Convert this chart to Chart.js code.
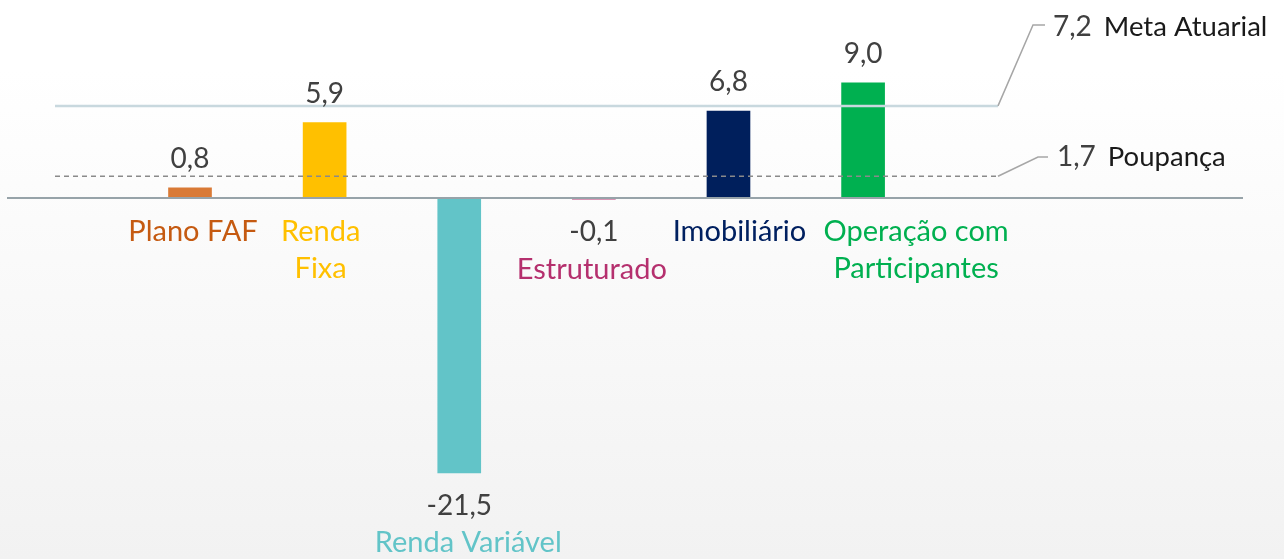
<!DOCTYPE html>
<html>
<head>
<meta charset="utf-8">
<script src="https://cdn.jsdelivr.net/npm/chart.js@4/dist/chart.umd.min.js"></script>
<style>
  html, body { margin: 0; padding: 0; }
  body {
    width: 1284px; height: 559px; overflow: hidden;
    background: linear-gradient(to bottom, #ffffff 0px, #ffffff 70px, #f2f2f2 559px);
  }
  #wrap { position: relative; width: 1284px; height: 559px; }
</style>
</head>
<body>
<div id="wrap"><canvas id="c" width="1284" height="559"></canvas></div>
<script>
// ---- data ----
const categories = [["Plano FAF"], ["Renda", "Fixa"], ["Renda Variável"], ["Estruturado"], ["Imobiliário"], ["Operação com", "Participantes"]];
const returns = [0.8, 5.9, -21.5, -0.1, 6.8, 9.0];
const metaAtuarial = 7.2;
const poupanca = 1.7;
const metaLabel = "Meta Atuarial";
const poupancaLabel = "Poupança";

// ---- styles ----
const barColors = ["#d97a36", "#ffc000", "#62c4c8", "#b5306e", "#001f5c", "#00b050"];
const labelColors = ["#c55a11", "#ffc000", "#62c4c8", "#b5306e", "#002060", "#00b050"];
const FONT = "Lato, 'Open Sans', sans-serif";

function fmt(v) { return v.toFixed(1).replace(".", ","); }

const overlay = {
  id: "overlay",
  afterDatasetsDraw(chart) {
    const ctx = chart.ctx;
    const y = chart.scales.y;
    const meta = chart.getDatasetMeta(0);
    const y0 = y.getPixelForValue(0);
    const yMeta = y.getPixelForValue(metaAtuarial);
    const yPoup = y.getPixelForValue(poupanca);
    ctx.save();

    // zero axis line
    ctx.strokeStyle = "#97a3a9";
    ctx.lineWidth = 2;
    ctx.beginPath(); ctx.moveTo(7, y0); ctx.lineTo(1243, y0); ctx.stroke();

    // meta atuarial line
    ctx.strokeStyle = "#c8d8de";
    ctx.lineWidth = 2.5;
    ctx.beginPath(); ctx.moveTo(55, yMeta); ctx.lineTo(998, yMeta); ctx.stroke();

    // poupanca dashed line
    ctx.strokeStyle = "#8a8a8a";
    ctx.lineWidth = 1.3;
    ctx.setLineDash([5, 4]);
    ctx.beginPath(); ctx.moveTo(55, yPoup); ctx.lineTo(998, yPoup); ctx.stroke();
    ctx.setLineDash([]);

    // leader lines
    ctx.strokeStyle = "#a6a6a6";
    ctx.lineWidth = 1.5;
    ctx.beginPath(); ctx.moveTo(998, yMeta); ctx.lineTo(1033, 25); ctx.lineTo(1045, 25); ctx.stroke();
    ctx.beginPath(); ctx.moveTo(998, yPoup); ctx.lineTo(1038, 157); ctx.lineTo(1048, 157); ctx.stroke();

    // right annotations
    ctx.textBaseline = "middle";
    ctx.textAlign = "left";
    ctx.font = "28px " + FONT;
    ctx.fillStyle = "#404040";
    ctx.fillText(fmt(metaAtuarial), 1053, 27);
    let w = ctx.measureText(fmt(metaAtuarial)).width;
    ctx.font = "27.5px " + FONT;
    ctx.fillStyle = "#1a1a1a";
    ctx.fillText(metaLabel, 1053 + w + 12, 27);

    ctx.font = "28px " + FONT;
    ctx.fillStyle = "#404040";
    ctx.fillText(fmt(poupanca), 1057, 157);
    w = ctx.measureText(fmt(poupanca)).width;
    ctx.font = "27.5px " + FONT;
    ctx.fillStyle = "#1a1a1a";
    ctx.fillText(poupancaLabel, 1057 + w + 12, 157);

    // value labels and category labels
    const catDx = [3, -4, 9, -2, 11, 53];
    meta.data.forEach((bar, i) => {
      const v = returns[i];
      ctx.textAlign = "center";
      ctx.font = "28px " + FONT;
      ctx.fillStyle = "#404040";
      let catY;
      if (v >= 0) {
        ctx.fillText(fmt(v), bar.x, bar.y - 29);
        catY = y0 + 34;
      } else {
        ctx.fillText(fmt(v), bar.x, bar.y + 33);
        catY = bar.y + 70;
      }
      ctx.font = "29px " + FONT;
      ctx.fillStyle = labelColors[i];
      categories[i].forEach((line, k) => {
        ctx.fillText(line, bar.x + catDx[i], catY + k * 37);
      });
    });
    ctx.restore();
  }
};

new Chart(document.getElementById("c"), {
  type: "bar",
  data: {
    labels: categories.map(c => c.join(" ")),
    datasets: [{
      data: returns,
      backgroundColor: (ctx) => {
        if (ctx.dataIndex === 0 && ctx.chart.chartArea) {
          const el = ctx.chart.getDatasetMeta(0).data[0];
          if (el && isFinite(el.y) && isFinite(el.base)) {
            const g = ctx.chart.ctx.createLinearGradient(0, el.y, 0, el.base);
            g.addColorStop(0, "#e89b52");
            g.addColorStop(1, "#cc6a2a");
            return g;
          }
        }
        return barColors[ctx.dataIndex];
      },
      borderWidth: 0,
      barThickness: 43
    }]
  },
  plugins: [overlay],
  options: {
    responsive: false,
    animation: false,
    events: [],
    layout: { padding: { left: 122.7, right: 353.6, top: 44.5, bottom: 54 } },
    plugins: { legend: { display: false }, tooltip: { enabled: false } },
    scales: {
      x: { display: false, offset: true },
      y: { display: false, min: -24, max: 12 }
    }
  }
});
</script>
</body>
</html>
